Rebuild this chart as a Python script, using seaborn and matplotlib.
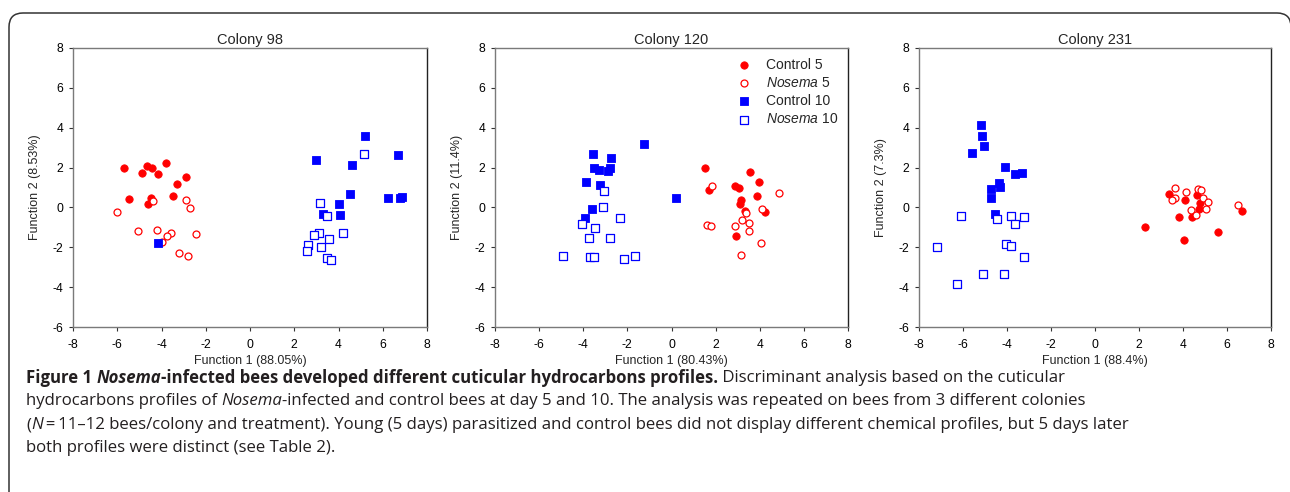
import numpy as np
import pandas as pd
import matplotlib
matplotlib.use("Agg")
import matplotlib.pyplot as plt
import seaborn as sns
from matplotlib.patches import FancyBboxPatch
from matplotlib.transforms import IdentityTransform

# ---------------- data ----------------
colonies = ["Colony 98", "Colony 120", "Colony 231"]
xlabels = ["Function 1 (88.05%)", "Function 1 (80.43%)", "Function 1 (88.4%)"]
ylabels = ["Function 2 (8.53%)", "Function 2 (11.4%)", "Function 2 (7.3%)"]
groups = ["Control 5", "Nosema 5", "Control 10", "Nosema 10"]
legend_labels = ["Control 5", r"$\it{Nosema}$ 5", "Control 10", r"$\it{Nosema}$ 10"]

# Colony 98
c98_ctrl5_x = [-5.71, -4.88, -4.66, -4.44, -3.79, -4.14, -2.91, -3.31, -5.49, -4.48, -4.59, -3.47]
c98_ctrl5_y = [2.00, 1.75, 2.07, 1.99, 2.24, 1.69, 1.54, 1.18, 0.43, 0.45, 0.18, 0.55]
c98_nos5_x = [-6.01, -4.39, -2.90, -2.72, -5.06, -4.21, -3.59, -3.73, -3.97, -2.42, -3.23, -2.78]
c98_nos5_y = [-0.21, 0.30, 0.38, -0.01, -1.16, -1.11, -1.26, -1.43, -1.73, -1.33, -2.27, -2.45]
c98_ctrl10_x = [5.19, 2.99, 4.60, 6.70, 4.51, 6.23, 6.79, 6.87, 4.03, 3.28, 4.06, -4.18]
c98_ctrl10_y = [3.56, 2.36, 2.14, 2.62, 0.65, 0.45, 0.45, 0.53, 0.18, -0.32, -0.39, -1.78]
c98_nos10_x = [5.15, 3.17, 3.47, 4.21, 3.12, 2.88, 3.56, 2.64, 2.57, 3.23, 3.47, 3.68]
c98_nos10_y = [2.67, 0.23, -0.44, -1.26, -1.28, -1.40, -1.56, -1.91, -2.18, -2.00, -2.53, -2.65]

# Colony 120
c120_ctrl5_x = [1.54, 3.57, 3.96, 1.69, 2.90, 3.08, 3.15, 3.12, 3.89, 3.31, 4.22, 2.92]
c120_ctrl5_y = [2.00, 1.79, 1.28, 0.85, 1.08, 0.95, 0.38, 0.15, 0.56, -0.16, -0.24, -1.45]
c120_nos5_x = [1.83, 4.88, 4.08, 3.36, 3.21, 3.51, 1.63, 1.77, 2.88, 3.51, 4.07, 3.16]
c120_nos5_y = [1.07, 0.70, -0.06, -0.27, -0.61, -0.79, -0.89, -0.93, -0.94, -1.18, -1.80, -2.40]
c120_ctrl10_x = [-1.26, -3.55, -2.75, -3.51, -3.28, -2.78, -2.86, -3.87, -3.25, 0.21, -3.59, -3.92]
c120_ctrl10_y = [3.19, 2.67, 2.46, 2.00, 1.90, 2.00, 1.82, 1.28, 1.15, 0.48, -0.07, -0.51]
c120_nos10_x = [-3.07, -3.10, -2.33, -4.07, -3.45, -3.75, -2.79, -4.91, -3.71, -3.53, -2.15, -1.67]
c120_nos10_y = [0.80, 0.01, -0.51, -0.81, -1.04, -1.51, -1.55, -2.45, -2.48, -2.48, -2.57, -2.43]

# Colony 231
c231_ctrl5_x = [3.35, 4.62, 4.08, 4.79, 4.74, 3.80, 4.42, 6.67, 2.27, 5.61, 4.06]
c231_ctrl5_y = [0.66, 0.60, 0.36, 0.20, -0.09, -0.46, -0.49, -0.16, -0.96, -1.24, -1.63]
c231_nos5_x = [3.65, 4.12, 4.70, 4.83, 3.62, 3.48, 4.91, 5.15, 5.05, 4.35, 4.61, 6.50]
c231_nos5_y = [1.00, 0.75, 0.90, 0.87, 0.45, 0.35, 0.46, 0.29, -0.06, -0.12, -0.36, 0.11]
c231_ctrl10_x = [-5.20, -5.12, -5.05, -5.61, -4.11, -3.65, -3.33, -4.35, -4.30, -4.74, -4.71, -4.53]
c231_ctrl10_y = [4.13, 3.56, 3.09, 2.71, 2.05, 1.69, 1.72, 1.22, 1.05, 0.90, 0.48, -0.31]
c231_nos10_x = [-6.09, -4.45, -3.82, -3.21, -3.62, -7.18, -4.03, -3.83, -3.23, -5.11, -4.15, -6.27]
c231_nos10_y = [-0.44, -0.56, -0.44, -0.49, -0.84, -1.98, -1.86, -1.93, -2.50, -3.32, -3.36, -3.82]

panel_data = [
    [(c98_ctrl5_x, c98_ctrl5_y), (c98_nos5_x, c98_nos5_y), (c98_ctrl10_x, c98_ctrl10_y), (c98_nos10_x, c98_nos10_y)],
    [(c120_ctrl5_x, c120_ctrl5_y), (c120_nos5_x, c120_nos5_y), (c120_ctrl10_x, c120_ctrl10_y), (c120_nos10_x, c120_nos10_y)],
    [(c231_ctrl5_x, c231_ctrl5_y), (c231_nos5_x, c231_nos5_y), (c231_ctrl10_x, c231_ctrl10_y), (c231_nos10_x, c231_nos10_y)],
]

rows = []
for col, pdata in zip(colonies, panel_data):
    for g, (xs, ys) in zip(groups, pdata):
        for xv, yv in zip(xs, ys):
            rows.append({"colony": col, "group": g, "x": xv, "y": yv})
df = pd.DataFrame(rows)

# ---------------- style ----------------
sns.set_theme(style="white")
plt.rcParams["font.family"] = ["Liberation Sans", "DejaVu Sans"]
plt.rcParams["mathtext.fontset"] = "custom"
plt.rcParams["mathtext.it"] = "Liberation Sans:italic"
plt.rcParams["mathtext.rm"] = "Liberation Sans"
plt.rcParams["axes.unicode_minus"] = False

W, H = 1290, 492
fig = plt.figure(figsize=(W / 100, H / 100), dpi=100)

def px_axes(l, t, r, b):
    return fig.add_axes([l / W, 1 - b / H, (r - l) / W, (b - t) / H])

axes_px = [(73, 48, 427, 327), (495, 48, 848, 327), (919, 48, 1271, 327)]

styles = {
    "Control 5": dict(marker="o", color="#ff0000", edgecolor="#ff0000", s=28, linewidth=0.6),
    "Nosema 5": dict(marker="o", color="white", edgecolor="#ff0000", s=25, linewidth=0.9),
    "Control 10": dict(marker="s", color="#0000ff", edgecolor="#0000ff", s=32, linewidth=0.6),
    "Nosema 10": dict(marker="s", color="white", edgecolor="#0000ff", s=30, linewidth=0.9),
}

for i, (col, (l, t, r, b)) in enumerate(zip(colonies, axes_px)):
    ax = px_axes(l, t, r, b)
    sub = df[df["colony"] == col]
    for g, lab in zip(groups, legend_labels):
        d = sub[sub["group"] == g]
        sns.scatterplot(data=d, x="x", y="y", ax=ax, label=lab, legend=False, **styles[g])
    ax.set_xlim(-8, 8)
    ax.set_ylim(-6, 8)
    ax.set_xticks(np.arange(-8, 9, 2))
    ax.set_yticks(np.arange(-6, 9, 2))
    ax.tick_params(axis="both", direction="out", length=3.0, width=0.8, color="#333333",
                   labelsize=8.7, left=True, bottom=True, labelcolor="black")
    ax.tick_params(axis="x", pad=5.5)
    ax.tick_params(axis="y", pad=4.0)
    for side in ["left", "bottom", "top"]:
        ax.spines[side].set_color("#7a7a7a")
        ax.spines[side].set_linewidth(1.0)
    ax.spines["right"].set_color("#222222")
    ax.spines["right"].set_linewidth(1.0)
    ax.set_title(col, fontsize=10.5, pad=3)
    ax.set_xlabel(xlabels[i], fontsize=9)
    ax.set_ylabel(ylabels[i], fontsize=9)
    wpx, hpx = r - l, b - t
    ax.xaxis.set_label_coords(0.5, -28 / hpx)
    ax.yaxis.set_label_coords(-32 / wpx, 0.5)
    if i == 1:
        ax.legend(loc="upper right", frameon=False, fontsize=10, handletextpad=0.6,
                  labelspacing=0.3, borderaxespad=0.3, markerscale=1.0,
                  bbox_to_anchor=(1.0, 1.0))

# ---------------- frame ----------------
frame = FancyBboxPatch((9, -30), 1283 - 9 + 8, (H - 13) + 30,
                       boxstyle="round,pad=0,rounding_size=14",
                       transform=IdentityTransform(), fill=False,
                       edgecolor="#333333", linewidth=1.1, clip_on=False)
fig.patches.append(frame)

# ---------------- caption ----------------
renderer = fig.canvas.get_renderer()
cap_font = "Open Sans"
cap_size = 12.1
cap_color = "#231f20"

def text_width(s, **kw):
    t1 = fig.text(0, 0, s + "|", **kw)
    t2 = fig.text(0, 0, "|", **kw)
    w = t1.get_window_extent(renderer).width - t2.get_window_extent(renderer).width
    t1.remove(); t2.remove()
    return w

def draw_runs(x, y, runs):
    for s, weight, style in runs:
        kw = dict(fontsize=cap_size, family=[cap_font, "DejaVu Sans"], weight=weight,
                  style=style, color=cap_color, va="center", ha="left")
        fig.text(x / W, 1 - y / H, s, **kw)
        x += text_width(s, **kw)

N, B, I = "normal", "bold", "italic"
lines = [
    (378, [("Figure 1 ", B, N), ("Nosema", B, I),
           ("-infected bees developed different cuticular hydrocarbons profiles.", B, N),
           (" Discriminant analysis based on the cuticular", N, N)]),
    (401, [("hydrocarbons profiles of ", N, N), ("Nosema", N, I),
           ("-infected and control bees at day 5 and 10. The analysis was repeated on bees from 3 different colonies", N, N)]),
    (425, [("(", N, N), ("N", N, I),
           ("\u2009=\u200911\u201312 bees/colony and treatment). Young (5 days) parasitized and control bees did not display different chemical profiles, but 5 days later", N, N)]),
    (448, [("both profiles were distinct (see Table 2).", N, N)]),
]
for y, runs in lines:
    draw_runs(26, y, runs)

fig.savefig("out.png", dpi=100)
